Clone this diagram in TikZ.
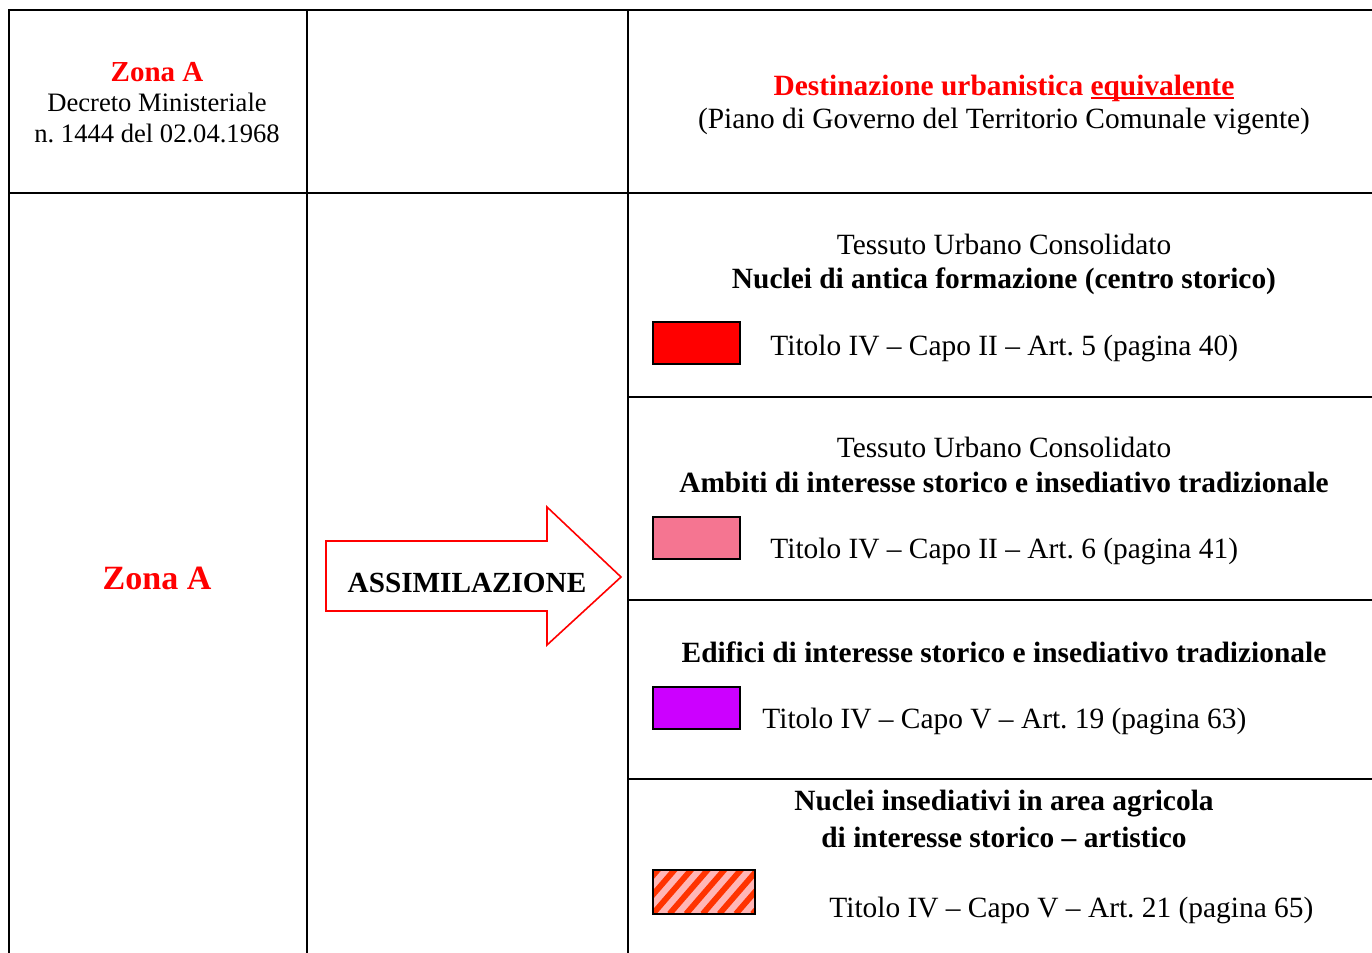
\documentclass[tikz,border=0pt]{standalone}
\usepackage{fontspec}
\setmainfont{Liberation Serif}
\frenchspacing
\usetikzlibrary{positioning}
\definecolor{zonared}{RGB}{255,0,0}
\definecolor{swpink}{RGB}{245,117,145}
\definecolor{swviolet}{RGB}{204,0,255}
\definecolor{hatchred}{RGB}{255,51,0}
\definecolor{hatchpink}{RGB}{255,182,182}
\newcommand{\ulword}[1]{\setbox0\hbox{#1}\rlap{\rule[-2pt]{\wd0}{0.9pt}}\box0}
\tikzset{
grid/.style={line width=1pt}, % the rules of the table
body/.style={font=\fontsize{13.3}{15}\selectfont, anchor=base, inner sep=0pt}, % plain lines of text, left column
cell/.style={body, font=\fontsize{14.7}{17}\selectfont}, % plain lines of text, right column
cellbf/.style={body, font=\fontsize{14.7}{17}\selectfont\bfseries}, % bold lines of text
reftext/.style={cell, anchor=base west}, % the Titolo lines beside the swatches
zonatitle/.style={body, text=zonared, font=\fontsize{14.5}{16}\selectfont\bfseries}, % red headings
swatch/.style={draw=black, line width=0.9pt, anchor=north west, inner sep=0pt, minimum width=43.5pt, minimum height=21pt}, % colour keys
}

\begin{document}
\begin{tikzpicture}[x=0.5pt, y=-0.5pt]
\useasboundingbox (0,0) rectangle (1372,953);

% table
\draw[grid] (9,953) -- (9,10) -- (1372,10);
\draw[grid] (307,10) -- (307,953);
\draw[grid] (628,10) -- (628,953);
\draw[grid] (9,193) -- (1372,193);
\foreach \y in {397,600,779}
  \draw[grid] (628,\y) -- (1372,\y);

% header
\node[zonatitle] (zonaHead) at (157,81) {Zona A};
\node[body] (decreto) at (157,111) {Decreto Ministeriale};
\node[body] (decretoNum) at (157,142) {n. 1444 del 02.04.1968};
\node[zonatitle, font=\fontsize{14.7}{17}\selectfont\bfseries] (destinazione) at (1004,95) {Destinazione urbanistica \ulword{equivalente}};
\node[cell] (piano) at (1004,128) {(Piano di Governo del Territorio Comunale vigente)};

% left side
\node[zonatitle, font=\fontsize{17}{19}\selectfont\bfseries] (zonaA) at (157,589) {Zona A};
\draw[zonared, line width=0.8pt] (326,541) -- (547,541) -- (547,507) -- (621,577)
  -- (547,645) -- (547,611) -- (326,611) -- cycle;
\node[body, font=\fontsize{14.6}{16}\selectfont\bfseries] (assim) at (467,592) {ASSIMILAZIONE};

% nuclei di antica formazione
\node[cell] (tessuto1) at (1004,254) {Tessuto Urbano Consolidato};
\node[cellbf] (nuclei) at (1004,288) {Nuclei di antica formazione (centro storico)};
\node[swatch, fill=zonared] (swRed) at (652,321) {};
\node[reftext] (art5) at (770,355) {Titolo IV – Capo II – Art. 5 (pagina 40)};

% ambiti
\node[cell] (tessuto2) at (1004,457) {Tessuto Urbano Consolidato};
\node[cellbf] (ambiti) at (1004,492) {Ambiti di interesse storico e insediativo tradizionale};
\node[swatch, fill=swpink] (swPink) at (652,516) {};
\node[reftext] (art6) at (770,558) {Titolo IV – Capo II – Art. 6 (pagina 41)};

% edifici
\node[cellbf] (edifici) at (1004,662) {Edifici di interesse storico e insediativo tradizionale};
\node[swatch, fill=swviolet] (swViolet) at (652,686) {};
\node[reftext] (art19) at (762,728) {Titolo IV – Capo V – Art. 19 (pagina 63)};

% nuclei in area agricola
\node[cellbf] (agricola) at (1004,810) {Nuclei insediativi in area agricola};
\node[cellbf] (artistico) at (1004,847) {di interesse storico – artistico};
\node[swatch, fill=hatchpink, minimum width=51pt, minimum height=22pt,
  path picture={\foreach \k in {-4,...,7}
    \draw[hatchred, line width=2.9pt] ([xshift=\k*8.3pt]path picture bounding box.south west) -- ++(26pt,30pt);}]
  (swHatch) at (652,869) {};
\node[reftext] (art21) at (829,917) {Titolo IV – Capo V – Art. 21 (pagina 65)};

\end{tikzpicture}
\end{document}
